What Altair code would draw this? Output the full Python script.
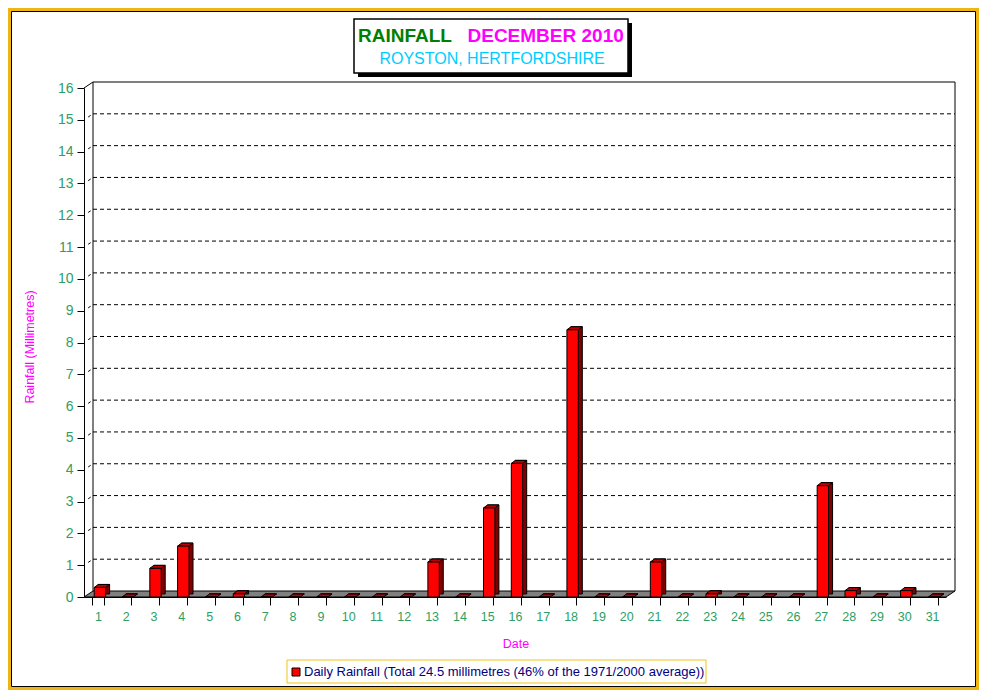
import altair as alt
import pandas as pd

# ---------------- data ----------------
days = list(range(1, 32))
rain = [0.3, 0, 0.9, 1.6, 0, 0.1, 0, 0, 0, 0, 0, 0, 1.1, 0, 2.8, 4.2, 0, 8.4,
        0, 0, 1.1, 0, 0.1, 0, 0, 0, 3.5, 0.2, 0, 0.2, 0]
y_ticks = list(range(0, 17))
grid_values = list(range(1, 16))

title_main = "RAINFALL"
title_month = "DECEMBER 2010"
subtitle = "ROYSTON, HERTFORDSHIRE"
x_title = "Date"
y_title = "Rainfall  (Millimetres)"
legend_label = "Daily Rainfall (Total 24.5 millimetres (46% of the 1971/2000 average))"

# ---------------- style ----------------
FONT = "Liberation Sans"
GREEN = "#2E9E64"
MAGENTA = "#FF00FF"
W, H = 862, 509
DX, DY = 4, -3      # bar depth
WX, WY = 9, -6      # wall depth
BX = 2              # bar shift inside band

df = pd.DataFrame({"day": days, "rain": rain})


def one(**kw):
    return alt.Data(values=[kw if kw else {"a": 1}])


xscale = alt.Scale(domain=days, paddingInner=0.59, paddingOuter=0.295)
yscale = alt.Scale(domain=[0, 16], nice=False)

x_axis = alt.Axis(tickBand="extent", tickSize=8, labelPadding=5, labelAngle=0,
                  labelColor=GREEN, labelFont=FONT, labelFontSize=12.5,
                  tickColor="black", domainColor="black", title=None,
                  zindex=1, grid=False)
y_axis = alt.Axis(values=y_ticks, tickSize=7, labelPadding=4,
                  labelColor=GREEN, labelFont=FONT, labelFontSize=14,
                  tickColor="black", domainColor="black", title=None,
                  zindex=1, grid=False)

x_enc = alt.X("day:O", scale=xscale, axis=x_axis)
y_enc = alt.Y("rain:Q", scale=yscale, axis=y_axis)


def yv(field="v"):
    return alt.Y(f"{field}:Q", scale=yscale, axis=y_axis)


# frame
frame = alt.Chart(one()).mark_rect(fill="white", stroke="black", strokeWidth=1).encode(
    x=alt.value(-72.5), x2=alt.value(891.5), y=alt.value(-76.5), y2=alt.value(598.5))

# title box
shadow = alt.Chart(one()).mark_rect(fill="black").encode(
    x=alt.value(274), x2=alt.value(548), y=alt.value(-65), y2=alt.value(-11))
tbox = alt.Chart(one()).mark_rect(fill="white", stroke="black", strokeWidth=1.5).encode(
    x=alt.value(270), x2=alt.value(544), y=alt.value(-69), y2=alt.value(-15))
t1 = alt.Chart(one()).mark_text(font=FONT, fontSize=19, fontWeight="bold", color="#008000",
                                align="left", baseline="alphabetic").encode(
    x=alt.value(274), y=alt.value(-46), text=alt.value(title_main))
t2 = alt.Chart(one()).mark_text(font=FONT, fontSize=19, fontWeight="bold", color=MAGENTA,
                                align="left", baseline="alphabetic").encode(
    x=alt.value(383.5), y=alt.value(-46), text=alt.value(title_month))
t3 = alt.Chart(one()).mark_text(font=FONT, fontSize=16, color="#00CCFF",
                                align="center", baseline="alphabetic").encode(
    x=alt.value(408), y=alt.value(-23.7), text=alt.value(subtitle))

# floor (parallelogram)
r = (W + WX) / 2
eps = (-WY / 2) / r
floor_path = (f"M-1,{eps:.6f} L{(W - r) / r:.6f},{eps:.6f} "
              f"L1,{-eps:.6f} L{(WX - r) / r:.6f},{-eps:.6f} Z")
floor = alt.Chart(one(v=0)).mark_point(
    shape=floor_path, size=(2 * r) ** 2, filled=True, fill="#808080", stroke="black",
    strokeWidth=1, opacity=1, yOffset=WY / 2).encode(
    x=alt.value(r), y=yv())

# back wall
wall_left = alt.Chart(one(v=16, v2=0)).mark_rule(color="black", strokeWidth=1,
                                                 yOffset=WY, y2Offset=WY).encode(
    x=alt.value(WX), y=yv(), y2="v2:Q")
wall_right = alt.Chart(one(v=16, v2=0)).mark_rule(color="black", strokeWidth=1,
                                                  yOffset=WY, y2Offset=WY).encode(
    x=alt.value(W + WX), y=yv(), y2="v2:Q")
wall_top = alt.Chart(one(v=16)).mark_rule(color="black", strokeWidth=1, yOffset=WY).encode(
    x=alt.value(WX), x2=alt.value(W + WX), y=yv())
top_diag = alt.Chart(one(v=16)).mark_rule(color="black", strokeWidth=1, y2Offset=WY).encode(
    x=alt.value(0), x2=alt.value(WX), y=yv(), y2="v:Q")

gdf = pd.DataFrame({"v": grid_values})
grid = alt.Chart(gdf).mark_rule(color="black", strokeWidth=1, strokeDash=[4, 3],
                                yOffset=WY).encode(
    x=alt.value(WX), x2=alt.value(W + WX), y=yv())
gdiag = alt.Chart(gdf).mark_rule(color="black", strokeWidth=1, strokeDash=[0, 5, 3, 10],
                                 y2Offset=WY).encode(
    x=alt.value(0), x2=alt.value(WX), y=yv(), y2="v:Q")

# 3D bars
half = 11.4 / 2
top_path = (f"M{-half / 10:.3f},0 L{half / 10:.3f},0 L{(half + DX) / 10:.3f},{DY / 10:.3f} "
            f"L{(-half + DX) / 10:.3f},{DY / 10:.3f} Z")
base = alt.Chart(df)
back = base.mark_bar(fill="#800000", stroke="black", strokeWidth=1,
                     xOffset=BX + DX, x2Offset=BX + DX, yOffset=DY, y2Offset=DY).encode(
    x=x_enc, y=y_enc)
topface = base.mark_point(shape=top_path, size=400, filled=True, fill="#C00000",
                          stroke="black", strokeWidth=1, opacity=1, xOffset=BX).encode(
    x=x_enc, y=y_enc)
front = base.mark_bar(fill="#FF0000", stroke="black", strokeWidth=1,
                      xOffset=BX, x2Offset=BX).encode(x=x_enc, y=y_enc)

# axis titles
xt = alt.Chart(one()).mark_text(font=FONT, fontSize=12.5, color=MAGENTA,
                                align="center", baseline="middle").encode(
    x=alt.value(432), y=alt.value(556), text=alt.value(x_title))
yt = alt.Chart(one()).mark_text(font=FONT, fontSize=12.5, color=MAGENTA, angle=270,
                                align="center", baseline="middle").encode(
    x=alt.value(-54), y=alt.value(259), text=alt.value(y_title))

# legend
lbox = alt.Chart(one()).mark_rect(fill="white", stroke="#F0C419", strokeWidth=1).encode(
    x=alt.value(203), x2=alt.value(622), y=alt.value(572), y2=alt.value(595))
lmark = alt.Chart(one()).mark_rect(fill="#FF0000", stroke="black", strokeWidth=1).encode(
    x=alt.value(208), x2=alt.value(216), y=alt.value(580), y2=alt.value(588))
ltext = alt.Chart(one()).mark_text(font=FONT, fontSize=13, color="#000080",
                                   align="left", baseline="middle").encode(
    x=alt.value(220), y=alt.value(583.5), text=alt.value(legend_label))

chart = alt.layer(
    frame, shadow, tbox, t1, t2, t3,
    floor, wall_left, wall_right, wall_top, top_diag, grid, gdiag,
    back, topface, front,
    xt, yt, lbox, lmark, ltext,
).properties(
    width=W, height=H,
    autosize=alt.AutoSizeParams(type="none"),
    padding={"left": 76, "top": 80, "right": 33, "bottom": 93},
    background="#F0B414",
).configure_view(strokeWidth=0)

chart.save("out.html", embed_options={"renderer": "svg", "actions": False})
